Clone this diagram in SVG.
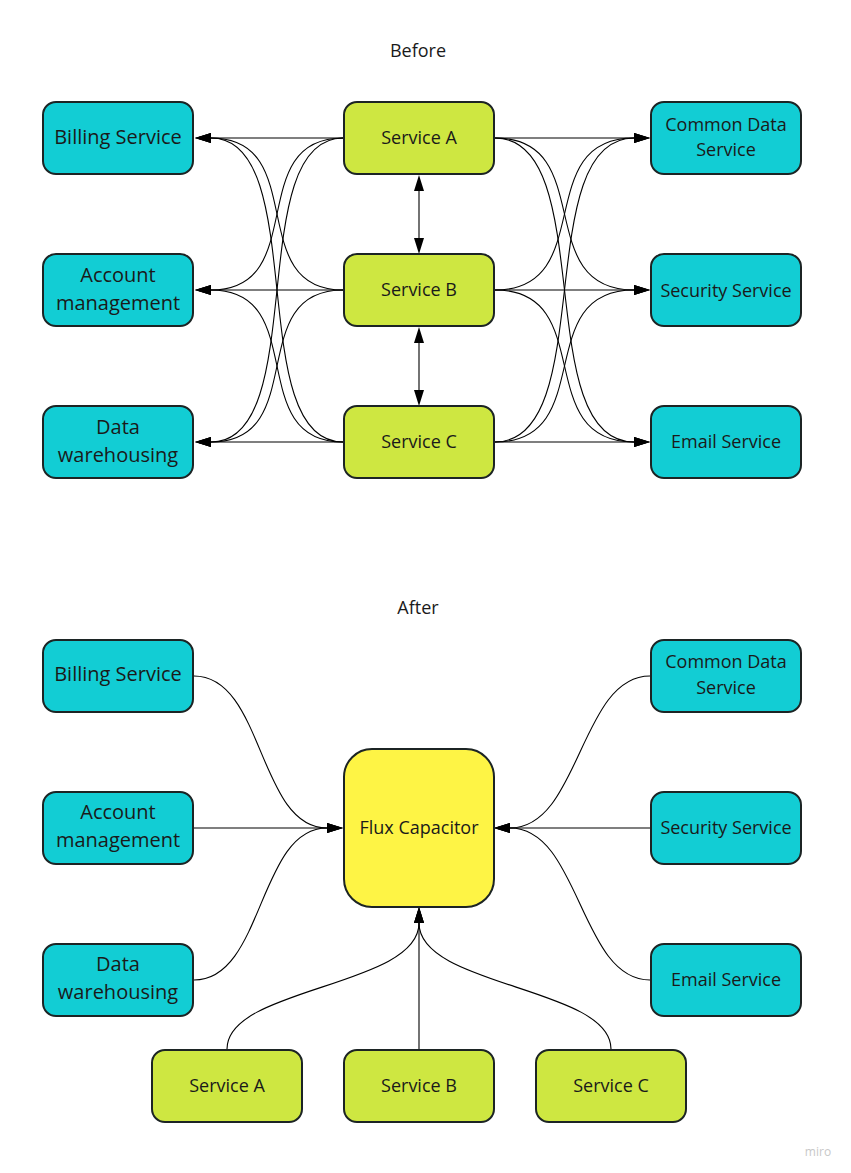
<svg xmlns="http://www.w3.org/2000/svg" width="851" height="1173" viewBox="0 0 851 1173">
<style>
.box{stroke:#1c2424;stroke-width:2}
.cyan{fill:#12cdd4}
.green{fill:#cee741}
.yellow{fill:#fef445}
.t{font-family:"Open Sans","Liberation Sans",sans-serif;fill:#1a1a1a;text-anchor:middle}
.l{font-size:20px}
.s{font-size:18px}
.c{fill:none;stroke:#000;stroke-width:1.1}
</style>
<defs>
<marker id="ah" viewBox="0 0 16 10" refX="0" refY="5" markerWidth="16" markerHeight="10" markerUnits="userSpaceOnUse" orient="auto-start-reverse">
<path d="M0,0 L16,5 L0,10 z" fill="#000"/>
</marker>
</defs>
<rect width="851" height="1173" fill="#fff"/>
<text class="t s" x="418" y="56.5">Before</text>
<text class="t s" x="418" y="613.5">After</text>

<g id="connectors-before" class="c">
<path class="c" marker-end="url(#ah)" d="M343,138 L211,138"/>
<path class="c" marker-end="url(#ah)" d="M343,138 C243,138 311,290 211,290"/>
<path class="c" marker-end="url(#ah)" d="M343,138 C243,138 311,442 211,442"/>
<path class="c" marker-end="url(#ah)" d="M343,290 C243,290 311,138 211,138"/>
<path class="c" marker-end="url(#ah)" d="M343,290 L211,290"/>
<path class="c" marker-end="url(#ah)" d="M343,290 C243,290 311,442 211,442"/>
<path class="c" marker-end="url(#ah)" d="M343,442 C243,442 311,138 211,138"/>
<path class="c" marker-end="url(#ah)" d="M343,442 C243,442 311,290 211,290"/>
<path class="c" marker-end="url(#ah)" d="M343,442 L211,442"/>
<path class="c" marker-end="url(#ah)" d="M495,138 L634,138"/>
<path class="c" marker-end="url(#ah)" d="M495,138 C599,138 530,290 634,290"/>
<path class="c" marker-end="url(#ah)" d="M495,138 C599,138 530,442 634,442"/>
<path class="c" marker-end="url(#ah)" d="M495,290 C599,290 530,138 634,138"/>
<path class="c" marker-end="url(#ah)" d="M495,290 L634,290"/>
<path class="c" marker-end="url(#ah)" d="M495,290 C599,290 530,442 634,442"/>
<path class="c" marker-end="url(#ah)" d="M495,442 C599,442 530,138 634,138"/>
<path class="c" marker-end="url(#ah)" d="M495,442 C599,442 530,290 634,290"/>
<path class="c" marker-end="url(#ah)" d="M495,442 L634,442"/>
<path class="c" marker-start="url(#ah)" marker-end="url(#ah)" d="M419,191 L419,238"/>
<path class="c" marker-start="url(#ah)" marker-end="url(#ah)" d="M419,343 L419,390"/>
</g>

<g id="connectors-after" class="c">
<path class="c" marker-end="url(#ah)" d="M194,676 C264,676 258,828 327,828"/>
<path class="c" marker-end="url(#ah)" d="M194,828 L327,828"/>
<path class="c" marker-end="url(#ah)" d="M194,980 C264,980 258,828 327,828"/>
<path class="c" marker-end="url(#ah)" d="M650,676 C580,676 580,828 510,828"/>
<path class="c" marker-end="url(#ah)" d="M650,828 L510,828"/>
<path class="c" marker-end="url(#ah)" d="M650,980 C580,980 580,828 510,828"/>
<path class="c" marker-end="url(#ah)" d="M227,1049 C227,987 419,987 419,923"/>
<path class="c" marker-end="url(#ah)" d="M419,1049 L419,923"/>
<path class="c" marker-end="url(#ah)" d="M611,1049 C611,987 419,987 419,923"/>
</g>

<g id="before-billing"><rect class="box cyan" x="43" y="102" width="150" height="72" rx="13"/><text class="t l" x="118" y="144">Billing Service</text></g>
<g id="before-account"><rect class="box cyan" x="43" y="254" width="150" height="72" rx="13"/><text class="t l" x="118" y="282">Account</text><text class="t l" x="118" y="310">management</text></g>
<g id="before-data"><rect class="box cyan" x="43" y="406" width="150" height="72" rx="13"/><text class="t l" x="118" y="434">Data</text><text class="t l" x="118" y="462">warehousing</text></g>
<g id="before-service-a"><rect class="box green" x="344" y="102" width="150" height="72" rx="13"/><text class="t s" x="419" y="143.5">Service A</text></g>
<g id="before-service-b"><rect class="box green" x="344" y="254" width="150" height="72" rx="13"/><text class="t s" x="419" y="295.5">Service B</text></g>
<g id="before-service-c"><rect class="box green" x="344" y="406" width="150" height="72" rx="13"/><text class="t s" x="419" y="447.5">Service C</text></g>
<g id="before-common"><rect class="box cyan" x="651" y="102" width="150" height="72" rx="13"/><text class="t s" x="726" y="130.5">Common Data</text><text class="t s" x="726" y="155.5">Service</text></g>
<g id="before-security"><rect class="box cyan" x="651" y="254" width="150" height="72" rx="13"/><text class="t s" x="726" y="296.5">Security Service</text></g>
<g id="before-email"><rect class="box cyan" x="651" y="406" width="150" height="72" rx="13"/><text class="t s" x="726" y="447.5">Email Service</text></g>

<g id="after-billing"><rect class="box cyan" x="43" y="640" width="150" height="72" rx="13"/><text class="t l" x="118" y="681">Billing Service</text></g>
<g id="after-account"><rect class="box cyan" x="43" y="792" width="150" height="72" rx="13"/><text class="t l" x="118" y="819">Account</text><text class="t l" x="118" y="847">management</text></g>
<g id="after-data"><rect class="box cyan" x="43" y="944" width="150" height="72" rx="13"/><text class="t l" x="118" y="971">Data</text><text class="t l" x="118" y="999">warehousing</text></g>
<g id="after-flux"><rect class="box yellow" x="344" y="749" width="150" height="158" rx="28"/><text class="t s" x="419" y="833.5">Flux Capacitor</text></g>
<g id="after-common"><rect class="box cyan" x="651" y="640" width="150" height="72" rx="13"/><text class="t s" x="726" y="667.5">Common Data</text><text class="t s" x="726" y="693.5">Service</text></g>
<g id="after-security"><rect class="box cyan" x="651" y="792" width="150" height="72" rx="13"/><text class="t s" x="726" y="833.5">Security Service</text></g>
<g id="after-email"><rect class="box cyan" x="651" y="944" width="150" height="72" rx="13"/><text class="t s" x="726" y="985.5">Email Service</text></g>
<g id="after-service-a"><rect class="box green" x="152" y="1050" width="150" height="72" rx="13"/><text class="t s" x="227" y="1091.5">Service A</text></g>
<g id="after-service-b"><rect class="box green" x="344" y="1050" width="150" height="72" rx="13"/><text class="t s" x="419" y="1091.5">Service B</text></g>
<g id="after-service-c"><rect class="box green" x="536" y="1050" width="150" height="72" rx="13"/><text class="t s" x="611" y="1091.5">Service C</text></g>

<text x="818" y="1156" font-family="'Open Sans','Liberation Sans',sans-serif" font-size="12" fill="#c8c8c8" text-anchor="middle">miro</text>
</svg>
